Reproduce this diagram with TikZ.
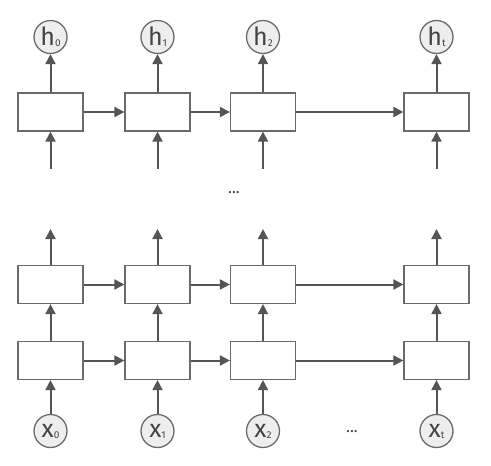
\documentclass[tikz,border=0pt]{standalone}
\usepackage{fontspec}
\setmainfont{Fira Sans}
\usetikzlibrary{arrows.meta}
\definecolor{linec}{HTML}{555555}
\definecolor{boxc}{HTML}{6A6A6A}
\definecolor{circf}{HTML}{EEEEEE}
\definecolor{txtc}{HTML}{444444}
\tikzset{
  cellbox/.style={draw=boxc, line width=1.2pt, minimum width=65pt, minimum height=38pt, inner sep=0pt, fill=white},
  statec/.style={circle, draw=boxc, line width=1.3pt, fill=circf, minimum size=33pt, inner sep=0pt, text=txtc},
  flow/.style={draw=linec, line width=2pt, -{Triangle[length=10pt,width=10pt]}},
}
\newcommand{\lbl}[2]{{\fontsize{25}{25}\selectfont #1}\raisebox{-1pt}{\fontsize{10}{10}\selectfont #2}}
\begin{document}
\begin{tikzpicture}[x=1pt,y=-1pt]
\useasboundingbox (0,0) rectangle (491,466);
\foreach \i/\x/\s in {0/50.5/0,1/157.5/1,2/263/2,3/436.5/t}{
  \node[cellbox] (t\i) at (\x,112) {};
  \node[cellbox] (m\i) at (\x,284.5) {};
  \node[cellbox] (b\i) at (\x,360.5) {};
  \node[statec] (h\i) at (\x,37) {\lbl{h}{\s}};
  \node[statec] (x\i) at (\x,431) {\lbl{x}{\s}};
  \coordinate (tin\i) at (\x,169);
  \coordinate (mout\i) at (\x,229);
  \draw[flow] (t\i) -- (h\i);
  \draw[flow] (tin\i) -- (t\i);
  \draw[flow] (m\i) -- (mout\i);
  \draw[flow] (b\i) -- (m\i);
  \draw[flow] (x\i) -- (b\i);
}
\foreach \a/\b in {0/1,1/2,2/3}{
  \draw[flow] (t\a) -- (t\b);
  \draw[flow] (m\a) -- (m\b);
  \draw[flow] (b\a) -- (b\b);
}
\node[text=txtc, font=\fontsize{16}{16}\selectfont] (d1) at (234,193) {...};
\node[text=txtc, font=\fontsize{16}{16}\selectfont] (d2) at (352,432) {...};
\end{tikzpicture}
\end{document}
